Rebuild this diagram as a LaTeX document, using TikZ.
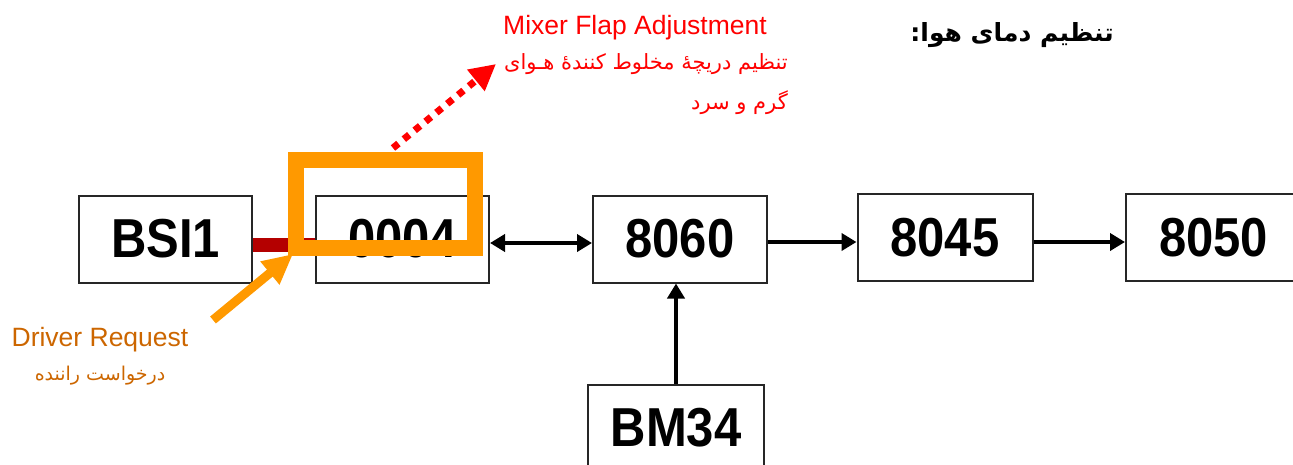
\documentclass[tikz,border=0pt]{standalone}
\usepackage{fontspec}
\setmainfont{Liberation Sans}
\newfontfamily\fa[Script=Arabic]{DejaVu Sans}
\TeXXeTstate=1
\usetikzlibrary{arrows.meta}
\definecolor{orangec}{RGB}{255,153,0}
\definecolor{drc}{RGB}{204,102,0}
\definecolor{darkredc}{RGB}{180,0,0}
\newcommand\boxlabel[1]{\scalebox{1}[1.12]{#1}}
\begin{document}
\begin{tikzpicture}[x=1pt,y=-1pt,
  box/.style={draw=black!85, line width=2pt, minimum width=175pt, minimum height=87pt, inner sep=0pt,
    font=\fontsize{49}{49}\selectfont\bfseries},
  conn/.style={line width=4pt, -{Triangle[length=15pt,width=17pt]}},
  dconn/.style={line width=4pt, {Triangle[length=15pt,width=17pt]}-{Triangle[length=15pt,width=17pt]}},
  lab/.style={inner sep=0pt},
]
\useasboundingbox (0,0) rectangle (1293,464);
\clip (0,0) rectangle (1293,464);

% boxes
\node[box, minimum width=173pt] (bsi) at (165.5,239) {\boxlabel{BSI1}};
\node[box, minimum width=173pt] (n0004) at (402.5,239) {\boxlabel{0004}};
\node[box, minimum width=174pt] (n8060) at (680,239) {\boxlabel{8060}};
\node[box] (n8045) at (945,237.5) {\boxlabel{8045}};
\node[box] (n8050) at (1213.5,237.5) {\boxlabel{8050}};
\node[box, minimum width=176pt] (bm) at (676,428) {\boxlabel{BM34}};

% connectors
\draw[dconn] (n0004.east |- 0,243) -- (n8060.west |- 0,243);
\draw[conn] (n8060.east |- 0,242) -- (n8045.west |- 0,242);
\draw[conn] (n8045.east |- 0,242) -- (n8050.west |- 0,242);
\draw[conn] (bm.north) -- (bm.north |- n8060.south);
\draw[line width=14pt, draw=darkredc] (bsi.east |- 0,245) -- (n0004.west |- 0,245);

% highlight rectangle
\node[draw=orangec, line width=16pt, minimum width=178.5pt, minimum height=87.5pt, inner sep=0pt] (hl) at (385.25,203.75) {};

% labels
\node[lab, text=red, font=\fontsize{26.5}{30}\selectfont] (mixer) at (635,28) {Mixer Flap Adjustment};
\node[lab, text=red, anchor=east, font=\fa\fontsize{21}{24}\selectfont] (fa1) at (788,64) {\beginR تنظیم دریچهٔ مخلوط کنندهٔ هـوای\endR};
\node[lab, text=red, anchor=east, font=\fa\fontsize{21}{24}\selectfont] (fa2) at (788,103) {\beginR گرم و سرد\endR};
\node[lab, text=black, anchor=east, font=\fa\bfseries\fontsize{25}{30}\selectfont] (title) at (1114,35) {\beginR تنظیم دمای هوا:\endR};
\node[lab, text=drc, font=\fontsize{26.5}{30}\selectfont] (drv) at (100,340) {Driver Request};
\node[lab, text=drc, font=\fa\fontsize{19}{22}\selectfont] (drvfa) at (100,376) {\beginR درخواست راننده\endR};

% annotation arrows
\coordinate (drtail) at (213,320);
\coordinate (drtip) at (293,254);
\draw[orangec, line width=9pt, -{Triangle[length=30pt,width=28pt]}] (drtail) -- (drtip);
\coordinate (mxtail) at (393,148);
\coordinate (mxtip) at (496,64);
\draw[red, line width=7pt, dash pattern=on 7pt off 7pt, -{Triangle[length=26pt,width=26pt]}] (mxtail) -- (mxtip);
\end{tikzpicture}
\end{document}
